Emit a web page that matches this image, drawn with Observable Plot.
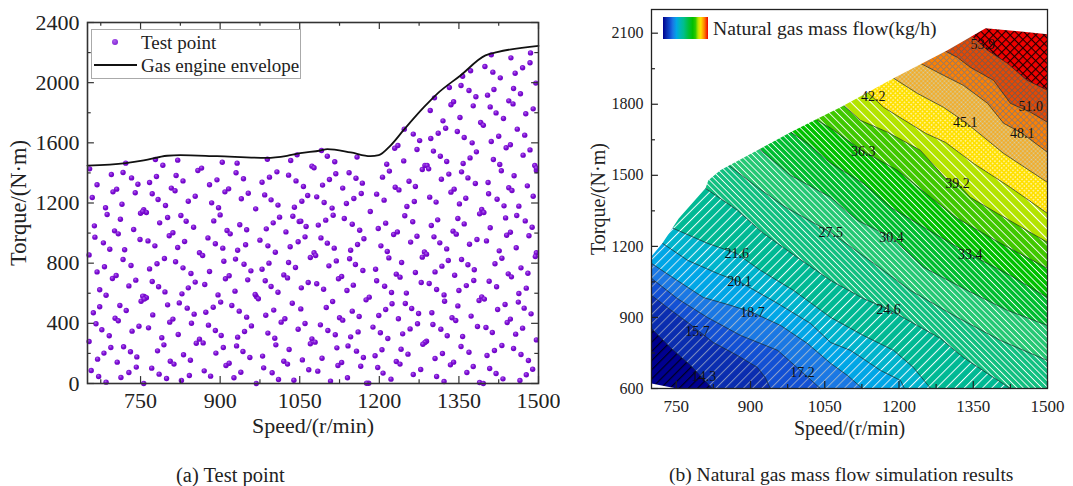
<!DOCTYPE html>
<html><head><meta charset="utf-8">
<script src="https://cdn.jsdelivr.net/npm/d3@7"></script>
<script src="https://cdn.jsdelivr.net/npm/@observablehq/plot@0.6"></script>
<style>
html,body{margin:0;padding:0;background:#fff}
#page{position:relative;width:1073px;height:486px;overflow:hidden;font-family:"Liberation Serif",serif;color:#222}
#page>div{position:absolute}
.pl{position:absolute}
.cap{line-height:22px;white-space:nowrap}
</style></head><body><div id="page"></div>
<script>
// ---------- panel (a) ----------
const testPoints = [
[654,1427],[668,1321],[659,1237],[684,1168],[695,1389],[717,1403],[722,1465],[733,1367],[745,1325],[705,1292],[698,1274],[715,1192],[740,1268],[767,1336],[780,1376],[778,1489],[792,1451],[820,1485],[817,1383],[830,1347],[808,1299],[815,1281],[772,1261],[783,1223],[797,1183],[756,1155],[853,1245],[840,1212],[858,1416],[865,1432],[904,1471],[932,1465],[930,1401],[944,1361],[894,1354],[880,1321],[909,1274],[916,1294],[884,1201],[897,1168],[940,1228],[953,1265],[979,1338],[993,1372],[1007,1407],[989,1491],[1033,1483],[1045,1520],[1029,1385],[1043,1347],[984,1254],[996,1221],[1009,1186],[1040,1172],[967,1161],
[1091,1549],[1102,1511],[1116,1474],[1073,1445],[1077,1434],[1158,1505],[1057,1310],[1065,1250],[1082,1241],[1093,1319],[1106,1356],[1118,1394],[1143,1401],[1156,1365],[1168,1332],[1131,1299],[1166,1263],[1152,1230],[1138,1197],[1096,1203],[1111,1166],[1054,1212],[1195,1259],[1209,1219],[1206,1372],[1219,1412],[1214,1458],[1229,1564],[1235,1582],[1247,1691],[1264,1658],[1276,1615],[1271,1556],[1246,1480],[1230,1305],[1237,1287],[1256,1345],[1268,1310],[1252,1177],[1266,1210],[1281,1423],[1286,1449],[1290,1449],[1293,1427],[1302,1545],[1315,1511],[1327,1476],[1297,1629],[1311,1664],[1325,1697],[1320,1746],[1296,1815],[1304,1899],[1332,1968],[1335,1853],[1340,1873],[1352,1768],[1347,1675],[1360,1635],[1375,1600],[1383,1540],[1371,1500],[1358,1463],[1355,1407],[1367,1367],[1381,1330],[1331,1392],[1317,1358],[1341,1292],[1335,1272],[1295,1239],[1307,1206],[1351,1194],[1363,1232],[1393,1157],[1405,1336],[1406,1261],[1422,1225],[1435,1181],[1463,1179],[1444,1301],[1450,1283],[1454,1381],[1479,1314],[1490,1245],[1430,1414],[1427,1456],[1415,1489],[1439,1567],[1447,1587],[1471,1518],[1484,1553],[1411,1609],[1425,1644],[1460,1691],[1474,1651],[1476,1793],[1490,1826],[1391,1735],[1396,1717],[1434,1762],[1420,1799],[1409,1839],[1377,1846],[1444,1879],[1452,1859],[1382,1906],[1404,1917],[1416,1955],[1453,1961],[1466,1926],[1369,1948],[1354,1981],[1428,2032],[1414,2070],[1399,2107],[1456,2063],[1470,2099],[1484,2132],[1485,2198],[1448,2165],[1411,2185],[1372,2079],[1357,2043],[1495,1997],[1493,1449],[1496,1416],[1496,1432],
[687,1124],[712,1092],[663,1048],[664,973],[680,935],[692,893],[701,1015],[708,995],[737,1024],[749,957],[764,948],[777,915],[720,889],[717,824],[732,784],[653,855],[668,742],[682,776],[697,698],[704,718],[728,649],[741,687],[767,762],[781,796],[795,831],[816,809],[830,769],[845,731],[750,1132],[761,1137],[754,1143],[786,1068],[801,1104],[826,1117],[836,1079],[850,1039],[804,982],[811,1002],[833,944],[820,904],[877,968],[891,929],[905,900],[888,1081],[900,1121],[861,869],[867,851],[880,745],[907,813],[929,827],[945,793],[958,749],[933,886],[948,922],[913,1017],[919,995],[937,1055],[950,1022],[975,953],[990,915],[1004,873],[987,1028],[1000,1068],[1012,1106],[1037,1112],[1049,1077],[1024,1008],[1032,909],[1047,942],[979,760],[992,800],[1029,804],[1042,771],
[772,678],[784,643],[796,609],[853,674],[840,636],[828,596],[871,658],[910,696],[917,716],[952,689],[928,614],[896,589],[901,541],[823,536],[838,501],[851,461],[801,523],[805,408],[811,428],[773,456],[673,623],[685,587],[673,510],[661,470],[666,397],[677,357],[691,317],[653,279],[711,519],[723,485],[702,434],[708,417],[751,547],[757,578],[761,570],[754,581],[757,561],[747,381],[734,348],[765,370],[790,304],[794,257],[782,217],[821,326],[846,401],[873,474],[887,507],[922,519],[936,481],[950,441],[878,388],[891,352],[902,319],[959,383],[946,346],[933,308],[931,250],[943,213],[956,173],[906,239],[892,202],[855,268],[861,295],[868,270],[968,578],[972,563],[966,592],[985,683],[996,645],[1009,607],[1020,722],[1027,702],[1036,534],[986,454],[1001,488],[1015,408],[1022,430],[1047,361],[990,335],[1003,301],[1005,257],[1030,226],[980,182],[1020,148],[1027,129],
[694,239],[681,202],[669,162],[718,244],[731,211],[743,177],[706,142],[657,86],[671,47],[685,9],[713,40],[728,73],[742,109],[756,0],[771,102],[785,62],[799,33],[806,148],[813,129],[831,191],[844,155],[827,20],[842,53],[870,84],[882,49],[911,120],[917,135],[926,38],[939,75],[968,0],[982,104],[998,71],[1010,27],[1039,22],
[1052,1079],[1062,1044],[1060,975],[1085,1053],[1099,1086],[1113,1119],[1134,1097],[1149,1059],[1163,1019],[1183,1143],[1198,1030],[1212,1066],[1227,991],[1234,1008],[1248,1115],[1263,1075],[1298,1050],[1310,1088],[1348,1097],[1360,1061],[1389,1128],[1397,1137],[1409,1035],[1438,1101],[1459,1117],[1475,1081],[1488,1039],[1482,982],[1339,1013],[1345,993],[1303,975],[1314,935],[1327,895],[1271,979],[1259,940],[1090,968],[1102,933],[1115,900],[1171,962],[1159,924],[1146,886],[1203,915],[1215,878],[1218,835],[1242,804],[1285,875],[1289,860],[1281,840],[1370,926],[1384,957],[1402,948],[1440,986],[1447,1006],[1458,902],[1426,882],[1431,833],[1418,796],[1496,869],[1494,844],[1467,769],[1480,733],
[1070,838],[1077,869],[1080,851],[1119,815],[1105,782],[1144,829],[1155,791],[1169,751],[1193,760],[1268,738],[1305,742],[1318,780],[1330,818],[1355,824],[1367,789],[1379,756],[1342,720],[1232,727],[1239,707],[1129,711],[1123,696],[1066,671],[1082,663],[1095,627],[1053,636],[1151,654],[1139,618],[1195,683],[1210,647],[1223,605],[1279,671],[1294,665],[1308,625],[1322,589],[1378,685],[1364,651],[1350,618],[1407,680],[1421,643],[1443,729],[1449,709],[1477,634],[1463,598],[1251,601],[1181,574],[1175,556],[1224,530],[1212,492],[1199,452],[1249,532],[1261,499],[1274,465],[1299,470],[1323,547],[1348,516],[1112,545],[1100,505],[1388,552],[1393,576],[1398,561],[1437,525],[1423,492],[1462,541],[1473,501],[1486,463],
[1149,481],[1162,445],[1125,437],[1131,421],[1236,430],[1337,437],[1344,419],[1373,448],[1447,428],[1441,406],[1470,368],[1457,328],[1060,399],[1052,496],[1089,390],[1103,352],[1117,324],[1160,343],[1146,310],[1188,375],[1202,337],[1216,299],[1272,397],[1258,363],[1244,330],[1301,392],[1316,361],[1328,317],[1385,379],[1401,372],[1413,339],[1496,290],[1357,312],[1073,297],[1079,275],[1070,264],[1120,237],[1141,250],[1157,215],[1170,173],[1289,281],[1286,273],[1282,261],[1205,224],[1192,184],[1241,228],[1254,195],[1354,246],[1369,208],[1319,199],[1305,166],[1403,186],[1417,219],[1431,253],[1453,233],[1467,193],[1481,153],[1092,168],[1055,157],[1129,140],[1122,120],[1165,115],[1197,106],[1207,69],[1222,29],[1232,146],[1239,129],[1067,91],[1084,82],[1140,38],[1108,16],[1180,2],[1176,2],[1264,60],[1278,93],[1308,47],[1322,13],[1334,124],[1340,142],[1377,113],[1365,73],[1389,7],[1396,0],[1408,100],[1420,66],[1433,31],[1477,58],[1489,95],[1465,20]
];
const envelopeSpeed  = [650,722,756,800,825,894,988,1026,1051,1089,1102,1146,1183,1199,1221,1246,1284,1309,1353,1400,1422,1500];
const envelopeTorque = [1449,1465,1483,1514,1518,1511,1500,1514,1531,1549,1558,1536,1511,1518,1582,1686,1837,1926,2048,2181,2203,2245];

// ---------- panel (b) ----------
const levels = ["14.3","15.7","17.2","18.7","20.1","21.6","24.6","27.5","30.4","33.4","36.3","39.2","42.2","45.1","48.1","51.0","53.9"];
const contours = [
[[700,853],[738,773],[779,697],[823,600]],
[[700,993],[732,942],[773,879],[825,794],[874,739],[914,689],[930,646],[940,600]],
[[700,1065],[752,980],[813,900],[880,824],[955,761],[1005,668],[1041,600]],
[[700,1128],[752,1056],[805,984],[860,951],[904,921],[961,866],[1015,790],[1062,706],[1096,655],[1126,600]],
[[722,1213],[773,1141],[833,1086],[880,1048],[955,959],[1021,875],[1062,794],[1102,761],[1163,676],[1203,634],[1211,600]],
[[744,1276],[813,1213],[872,1170],[920,1099],[987,1014],[1062,900],[1128,824],[1189,761],[1229,689],[1264,600]],
[[809,1445],[874,1352],[926,1255],[995,1153],[1062,1056],[1128,980],[1179,934],[1237,866],[1284,811],[1330,731],[1379,663],[1425,600]],
[[856,1542],[914,1449],[971,1365],[1062,1259],[1149,1128],[1223,1014],[1318,900],[1405,803],[1500,718]],
[[916,1614],[981,1500],[1062,1407],[1116,1310],[1185,1238],[1250,1111],[1338,1014],[1419,930],[1500,866]],
[[981,1682],[1015,1635],[1062,1551],[1128,1466],[1183,1365],[1264,1263],[1344,1166],[1425,1077],[1500,984]],
[[1035,1732],[1062,1699],[1128,1601],[1197,1521],[1264,1407],[1318,1318],[1405,1213],[1500,1107]],
[[1088,1796],[1122,1732],[1177,1682],[1243,1606],[1294,1487],[1318,1466],[1344,1407],[1399,1339],[1500,1217]],
[[1136,1851],[1169,1787],[1254,1677],[1294,1639],[1350,1551],[1425,1449],[1500,1339]],
[[1189,1910],[1237,1846],[1290,1787],[1334,1724],[1359,1682],[1411,1593],[1500,1470]],
[[1243,1973],[1290,1922],[1330,1880],[1379,1804],[1411,1720],[1449,1677],[1500,1597]],
[[1294,2024],[1318,1998],[1344,1956],[1391,1901],[1425,1804],[1466,1766],[1500,1724]],
[[1350,2083],[1379,2028],[1419,1973],[1459,1901],[1500,1859]]
];
const labelSpeed  = [806,793,1005,904,878,872,1179,1062,1185,1344,1128,1318,1148,1334,1449,1466,1369];
const labelTorque = [651,841,668,921,1052,1170,934,1259,1238,1166,1601,1466,1834,1724,1677,1791,2053];
// outside of the test envelope (upper-left) and the sliver at the lower-left corner
const outsideUpper = [[700,2200],[1500,2200],[1500,2096],[1375,2121],[1298,2028],[1189,1910],[1082,1787],[1041,1745],[981,1682],[914,1606],[839,1521],[815,1479],[809,1445],[755,1318],[722,1213],[700,1158]];
const outsideLower = [[700,621],[751,600],[700,600]];
const bandFill = ["navy0","b1","b2","b3","b4","b5","b6","g1","g2","g3","g4","g5","lime","yel","tan","org","dorg","red"];

const serif = "Liberation Serif";
function hatch(id,bg,fg,ang,sp,w){return `<pattern id="${id}" patternUnits="userSpaceOnUse" width="${sp}" height="${sp}" patternTransform="rotate(${ang})"><rect width="${sp}" height="${sp}" fill="${bg}"/><rect width="${w}" height="${sp}" fill="${fg}"/></pattern>`;}
function cross(id,bg,fg,sp,w){return `<pattern id="${id}" patternUnits="userSpaceOnUse" width="${sp}" height="${sp}" patternTransform="rotate(45)"><rect width="${sp}" height="${sp}" fill="${bg}"/><rect width="${w}" height="${sp}" fill="${fg}"/><rect width="${sp}" height="${w}" fill="${fg}"/></pattern>`;}
function dots(id,bg,fg,sp,r){return `<pattern id="${id}" patternUnits="userSpaceOnUse" width="${sp}" height="${sp}" patternTransform="rotate(45)"><rect width="${sp}" height="${sp}" fill="${bg}"/><circle cx="${sp/2}" cy="${sp/2}" r="${r}" fill="${fg}"/></pattern>`;}
const patterns = [
 hatch("navy0","#00008f","#000020",45,6.5,1.2),
 hatch("b1","#0a2db0","#7f8fc0",45,6.5,1),
 hatch("b2","#1250d4","#8a9fcc",45,6.5,1),
 hatch("b3","#1a78e4","#9ab4d0",45,6.5,1),
 hatch("b4","#00a6e6","#cfe8f4",45,6.5,1),
 hatch("b5","#00b4cc","#f4fbff",45,6.5,1),
 hatch("b6","#00b994","#f4fffb",45,6.5,1),
 hatch("g1","#12c080","#ffffff",-45,4.4,.85),
 hatch("g2","#26c874","#ffffff",-45,4.4,.85),
 hatch("g3","#00bd30","#ffffff",-45,4.4,.85),
 hatch("g4","#00c000","#ffffff",-45,4.4,.85),
 hatch("g5","#40c800","#ffffff",-45,5.5,.85),
 hatch("lime","#b4e400","#ffffff",-45,7,1),
 dots("yel","#ffe000","#fff6a8",3.2,.9),
 dots("tan","#f4aa20","#d0d0b0",3,1),
 cross("org","#ff8000","#9a7a60",4.2,.9),
 cross("dorg","#e84800","#805848",4.2,.9),
 cross("red","#f00000","#200000",6,1.1)
].join("");
const defsB = () => { const d = document.createElementNS("http://www.w3.org/2000/svg","defs"); d.innerHTML = patterns; return d; };
const defsA = () => { const d = document.createElementNS("http://www.w3.org/2000/svg","defs");
  d.innerHTML = `<radialGradient id="ball" cx="40%" cy="35%" r="70%"><stop offset="0" stop-color="#b060f0"/><stop offset="0.45" stop-color="#7d10d4"/><stop offset="1" stop-color="#6a00c0"/></radialGradient>`; return d; };

const fmt = d => String(d);
// inward tick marks: tick length is given in data units along the crossing axis
const tx = (vals,y1,y2,stroke) => Plot.ruleX(vals,{y1,y2,stroke,strokeWidth:1.2});
const ty = (vals,x1,x2,stroke) => Plot.ruleY(vals,{x1,x2,stroke,strokeWidth:1.2});

// ---------- panel (a) chart ----------
const xMajorA=[750,900,1050,1200,1350,1500], xMinorA=[675,825,975,1125,1275,1425];
const yMajorA=[0,400,800,1200,1600,2000,2400], yMinorA=[200,600,1000,1400,1800,2200];
const a = Plot.plot({
  width:560,height:450,marginLeft:87,marginRight:22,marginTop:22,marginBottom:67,
  style:{fontFamily:serif,background:"transparent",color:"#222"},
  x:{domain:[650,1500]},y:{domain:[0,2400]},
  marks:[
    defsA,
    Plot.dot(testPoints,{x:d=>d[0],y:d=>d[1],r:2.7,fill:"url(#ball)",stroke:"none"}),
    Plot.line(envelopeSpeed.map((s,i)=>[s,envelopeTorque[i]]),{x:d=>d[0],y:d=>d[1],stroke:"#111",strokeWidth:1.8,curve:"monotone-x"}),
    tx(xMajorA,0,46,"#333"),tx(xMinorA,0,25,"#333"),tx(xMajorA,2400,2354,"#333"),tx(xMinorA,2400,2375,"#333"),
    ty(yMajorA,650,663,"#333"),ty(yMinorA,650,657,"#333"),ty(yMajorA,1500,1487,"#333"),ty(yMinorA,1500,1493,"#333"),
    Plot.axisX({anchor:"bottom",ticks:xMajorA,tickSize:0,tickPadding:9,tickFormat:fmt,fontSize:22,label:null,lineAnchor:"top"}),
    Plot.axisY({anchor:"left",ticks:yMajorA,tickSize:0,tickPadding:8,tickFormat:fmt,fontSize:22,label:null}),
    Plot.text(["Speed/(r/min)"],{frameAnchor:"bottom",lineAnchor:"middle",dy:42,fontSize:22,fill:"#222"}),
    Plot.text(["Torque/(N·m)"],{frameAnchor:"left",textAnchor:"middle",dx:-69,rotate:-90,fontSize:22.5,fill:"#222"}),
    Plot.frame({stroke:"#333",strokeWidth:1.6})
  ]
});
a.classList.add("pl"); a.style.left="0px"; a.style.top="0px";

// ---------- panel (b) chart ----------
const xMajorB=[750,900,1050,1200,1350,1500], xMinorB=[825,975,1125,1275,1425];
const yMajorB=[600,900,1200,1500,1800,2100], yMinorB=[750,1050,1350,1650,1950];
const polyOpts = {x:d=>d[0],y:d=>d[1],stroke:"none"};
const bands = contours.map((c,i)=>{
  const last=c[c.length-1], pts=[...c];
  if(last[0]<1500) pts.push([1500,600]);
  pts.push([1500,2200],[700,2200]);
  return Plot.line(pts,{...polyOpts,fill:`url(#${bandFill[i+1]})`});
});
const b = Plot.plot({
  width:513,height:440,marginLeft:91,marginRight:26,marginTop:9,marginBottom:52,
  style:{fontFamily:serif,background:"transparent",color:"#222"},
  x:{domain:[700,1500]},y:{domain:[600,2200]},
  marks:[
    defsB,
    Plot.line([[700,600],[1500,600],[1500,2200],[700,2200]],{...polyOpts,fill:"url(#navy0)"}),
    ...bands,
    ...contours.map(c=>Plot.line(c,{x:d=>d[0],y:d=>d[1],stroke:"#1a2a2a",strokeWidth:.7})),
    Plot.line(outsideUpper,{...polyOpts,fill:"#fff"}),
    Plot.line(outsideLower,{...polyOpts,fill:"#fff"}),
    Plot.text(levels,{x:(d,i)=>labelSpeed[i],y:(d,i)=>labelTorque[i],text:d=>d,fontSize:14,fill:"#111"}),
    tx(xMajorB,600,630,"#222"),tx(xMinorB,600,617,"#222"),
    ty(yMajorB,700,714,"#222"),ty(yMinorB,700,708,"#222"),
    Plot.axisX({anchor:"bottom",ticks:xMajorB,tickSize:0,tickPadding:11,tickFormat:fmt,fontSize:17,label:null,lineAnchor:"top"}),
    Plot.axisY({anchor:"left",ticks:yMajorB,tickSize:0,tickPadding:8,tickFormat:fmt,fontSize:16,label:null}),
    Plot.text(["Speed/(r/min)"],{frameAnchor:"bottom",lineAnchor:"middle",dy:40,fontSize:20,fill:"#222"}),
    Plot.text(["Torque/(N·m)"],{frameAnchor:"left",textAnchor:"middle",dx:-53,rotate:-90,fontSize:20,fill:"#222"}),
    Plot.frame({stroke:"#222",strokeWidth:1.3})
  ]
});
b.classList.add("pl"); b.style.left="560px"; b.style.top="0px";

// ---------- page furniture ----------
const page=document.getElementById("page");
page.append(a,b);
function div(css,txt){const e=document.createElement("div");e.style.cssText=css;if(txt)e.textContent=txt;page.append(e);return e;}
// legend (a)
div("left:91px;top:29px;width:208px;height:48px;border:1px solid #aaa;background:#fff;");
div("left:112px;top:39px;width:6px;height:6px;border-radius:50%;background:radial-gradient(circle at 40% 35%,#b060f0,#7010c8);");
div("left:94px;top:64px;width:43px;height:2px;background:#111;");
div("left:141px;top:32px;font-size:19px;line-height:21px;white-space:nowrap;","Test point");
div("left:141px;top:55px;font-size:19px;line-height:21px;white-space:nowrap;","Gas engine envelope");
// legend (b)
div("left:663px;top:17px;width:45px;height:22px;background:linear-gradient(90deg,#00008f 0%,#0a2db0 8%,#1250d4 16%,#1a78e4 22%,#00a6e6 30%,#00b7b4 38%,#00be8c 46%,#00bf40 56%,#00c000 66%,#2ac800 72%,#b4e400 78%,#ffe000 84%,#ff8000 92%,#f00000 100%);");
div("left:713px;top:17px;font-size:19.7px;line-height:22px;white-space:nowrap;","Natural gas mass flow(kg/h)");
// captions
div("left:176px;top:464px;font-size:20.5px;","(a) Test point").className="cap";
div("left:669px;top:464px;font-size:19.5px;","(b) Natural gas mass flow simulation results").className="cap";
</script></body></html>
